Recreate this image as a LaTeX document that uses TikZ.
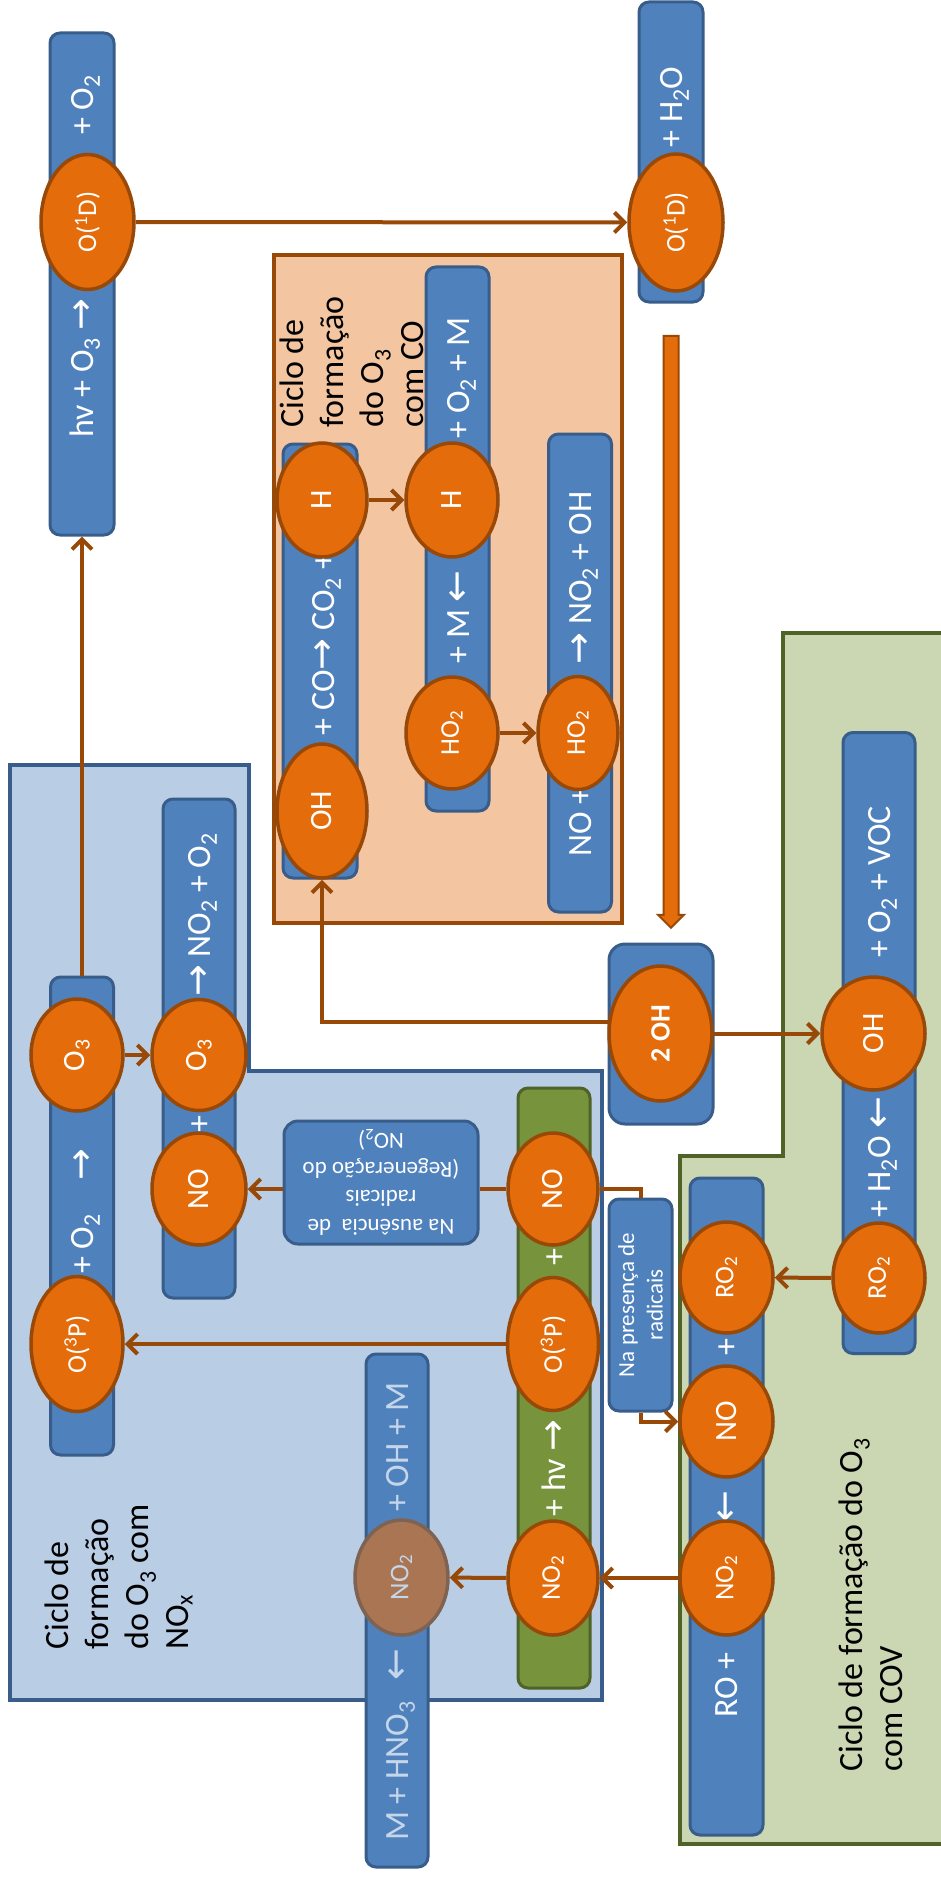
\documentclass[tikz,border=0pt]{standalone}
\usepackage{fontspec}
\setmainfont{Carlito}
\newfontfamily\arrowfont{DejaVu Sans}
\usepackage{graphicx}
\usetikzlibrary{shapes.geometric,shapes.arrows,arrows.meta}
\definecolor{boxblue}{HTML}{4F81BD}
\definecolor{boxline}{HTML}{385D8A}
\definecolor{ovalfill}{HTML}{E46C0A}
\definecolor{ovalline}{HTML}{984807}
\definecolor{linkbrown}{HTML}{984807}
\definecolor{cofill}{HTML}{F3C5A0}
\definecolor{noxfill}{HTML}{B9CDE5}
\definecolor{covfill}{HTML}{CBD6B3}
\definecolor{covline}{HTML}{4F6228}
\definecolor{hvgreen}{HTML}{77933C}
\definecolor{lostfill}{HTML}{A97552}
\definecolor{lostline}{HTML}{7E6352}
\definecolor{paletext}{HTML}{C6D6EA}
\newcommand{\ra}{{\arrowfont\fontsize{38}{40}\selectfont →}}
\newcommand{\la}{{\arrowfont\fontsize{38}{40}\selectfont ←}}
\newcommand{\uptext}[1]{\rotatebox{90}{#1}}

\begin{document}
\begin{tikzpicture}[x=1pt,y=-1pt,
  >={Straight Barb[length=10pt,width=20pt]},
  wh/.style 2 args={minimum width=#1pt,minimum height=#2pt},
  box/.style={draw=boxline,fill=boxblue,line width=3pt,rounded corners=10pt,inner sep=0pt},
  oval/.style={ellipse,draw=ovalline,fill=ovalfill,line width=3.5pt,inner sep=0pt,
               text=white,font=\fontsize{31}{36}\selectfont},
  subs/.style={font=\fontsize{27}{32}\selectfont},
  chem/.style={rotate=90,text=white,inner sep=0pt,text height=22pt,text depth=0pt,
               font=\fontsize{34}{40}\selectfont},
  link/.style={draw=linkbrown,line width=4pt},
  areatitle/.style={rotate=90,align=left,inner sep=0pt,font=\fontsize{34}{40}\selectfont},
  notetext/.style={align=center,inner sep=0pt,text=white,
                   font=\fontsize{23}{28.5}\selectfont}]
  \useasboundingbox (0,0) rectangle (941,1878);
  % areas of the three cycles
  \draw[draw=ovalline,fill=cofill,line width=3.5pt] (274,255) rectangle (622,923);
  \draw[draw=boxline,fill=noxfill,line width=3.5pt]
    (10,765) -- (249,765) -- (249,1071) -- (602,1071) -- (602,1700) -- (10,1700) -- cycle;
  \draw[draw=covline,fill=covfill,line width=3.5pt]
    (783,633) -- (960,633) -- (960,1844) -- (680,1844) -- (680,1156) -- (783,1156) -- cycle;

  \node[areatitle,anchor=west] (cotitle) at (352,428)
    {Ciclo de\\formação\\do O\textsubscript{3}\\com CO};
  \node[areatitle,anchor=west] (noxtitle) at (119,1650)
    {Ciclo de\\formação\\do O\textsubscript{3} com\\NO\textsubscript{x}};
  \node[areatitle,anchor=west] (covtitle) at (871,1772)
    {Ciclo de formação do O\textsubscript{3}\\com COV};

  % reaction bars
  \node[box,wh={64}{502}] (hvbar) at (82,284) {};
  \node[box,wh={64}{300}] (h2obar) at (671,152) {};
  \node[box,wh={74}{434}] (cobar) at (320,661) {};
  \node[box,wh={63}{544}] (hbar) at (457.5,539) {};
  \node[box,wh={63}{478}] (ho2bar) at (580,673) {};
  \node[box,wh={63}{478}] (o3bar) at (82,1216) {};
  \node[box,wh={72}{499}] (nobar) at (199,1048.5) {};
  \node[box,wh={62}{513}] (hno3bar) at (397,1610.5) {};
  \node[box,wh={72}{600},draw=covline,fill=hvgreen] (hvgbar) at (554,1388) {};
  \node[box,wh={72}{621}] (vocbar) at (879,1043) {};
  \node[box,wh={73}{657}] (robar) at (726.5,1506.5) {};
  \node[box,wh={104}{180},rounded corners=16pt] (ohbar) at (661,1034) {};
  \node[box,wh={194}{123},rounded corners=14pt] (ausencia) at (381,1182.5) {};
  \node[box,wh={63}{212}] (presenca) at (640.5,1305) {};

  \node[notetext,rotate=180] (ausenciatext) at (ausencia)
    {Na ausência\ \ de\\radicais\\(Regeneração do\\NO\textsubscript{2})};
  \node[notetext,rotate=90] (presencatext) at (presenca)
    {Na presença de\\radicais};

  % texts on the bars
  \node[chem] (hvl) at (82,368) {hv + O\textsubscript{3} \ra};
  \node[chem] (hvr) at (82,105) {+ O\textsubscript{2}};
  \node[chem] (h2or) at (671,107) {+ H\textsubscript{2}O};
  \node[chem] (com) at (323,644) {+ CO\ra{} CO\textsubscript{2} +};
  \node[chem] (hr) at (458,378) {+ O\textsubscript{2} + M};
  \node[chem] (hm) at (458,617) {+ M \la};
  \node[chem] (ho2l) at (580,822) {NO +};
  \node[chem] (ho2r) at (580,578) {\ra{} NO\textsubscript{2} + OH};
  \node[chem] (o3l) at (82,1211) {+ O\textsubscript{2}\quad\ra};
  \node[chem] (nom) at (199,1124) {+};
  \node[chem] (nor) at (199,915) {\ra{} NO\textsubscript{2} + O\textsubscript{2}};
  \node[chem,text=paletext] (hno3r) at (397,1447) {+ OH + M};
  \node[chem,text=paletext] (hno3m) at (397,1665) {\la};
  \node[chem,text=paletext] (hno3l) at (397,1771) {M + HNO\textsubscript{3}};
  \node[chem] (hvgm) at (554,1257) {+};
  \node[chem] (hvgl) at (554,1468) {+ hv \ra};
  \node[chem] (vocr) at (879,882) {+ O\textsubscript{2} + VOC};
  \node[chem] (vocl) at (879,1157) {+ H\textsubscript{2}O \la};
  \node[chem] (rom) at (726.5,1347) {+};
  \node[chem] (roa) at (726.5,1507) {\la};
  \node[chem] (rol) at (726.5,1685) {RO +};

  % big arrow towards 2 OH
  \node[single arrow,draw=ovalline,fill=ovalfill,line width=2pt,inner sep=6.5pt,
        minimum height=592pt,minimum width=24pt,single arrow head extend=5.5pt,
        shape border rotate=270] (flow) at (671,628) {};

  % species
  \node[oval,subs,wh={93}{135}] (O1Da) at (87.5,222) {\uptext{O(\textsuperscript{1}D)}};
  \node[oval,subs,wh={94}{137}] (O1Db) at (676,222.5) {\uptext{O(\textsuperscript{1}D)}};
  \node[oval,wh={90}{114}] (Ha) at (322,500) {\uptext{H}};
  \node[oval,wh={90}{134}] (OHco) at (322,811) {\uptext{OH}};
  \node[oval,wh={92}{114}] (Hb) at (452,500) {\uptext{H}};
  \node[oval,subs,wh={92}{112}] (HO2b) at (452,733) {\uptext{HO\textsubscript{2}}};
  \node[oval,subs,wh={80}{113}] (HO2c) at (578,733) {\uptext{HO\textsubscript{2}}};
  \node[oval,wh={92}{112}] (O3a) at (77,1055) {\uptext{O\textsubscript{3}}};
  \node[oval,wh={94}{111}] (O3b) at (199,1055) {\uptext{O\textsubscript{3}}};
  \node[oval,wh={94}{112}] (NOb) at (199,1189) {\uptext{NO}};
  \node[oval,subs,wh={92}{135}] (O3Pa) at (77,1344) {\uptext{O(\textsuperscript{3}P)}};
  \node[oval,wh={90}{112}] (NOg) at (553,1189) {\uptext{NO}};
  \node[oval,subs,wh={91}{133}] (O3Pg) at (553,1344) {\uptext{O(\textsuperscript{3}P)}};
  \node[oval,subs,wh={90}{114}] (NO2g) at (553,1578) {\uptext{NO\textsubscript{2}}};
  \node[oval,subs,wh={93}{115},draw=lostline,fill=lostfill,text=paletext] (NO2lost)
    at (401.5,1577.5) {\uptext{NO\textsubscript{2}}};
  \node[oval,wh={103}{135},font=\fontsize{28}{34}\selectfont\bfseries] (twoOH)
    at (660.5,1033.5) {\uptext{2 OH}};
  \node[oval,wh={103}{113}] (OHv) at (873.5,1033.5) {\uptext{OH}};
  \node[oval,subs,wh={92}{110}] (RO2u) at (879,1278) {\uptext{RO\textsubscript{2}}};
  \node[oval,subs,wh={93}{111}] (RO2l) at (726.5,1277.5) {\uptext{RO\textsubscript{2}}};
  \node[oval,wh={93}{111}] (NOc) at (726.5,1421.5) {\uptext{NO}};
  \node[oval,subs,wh={93}{114}] (NO2c) at (726.5,1578) {\uptext{NO\textsubscript{2}}};

  % links
  \draw[link,->] (o3bar.north) -- (hvbar.south);
  \draw[link,->] (O1Da) -- (O1Db);
  \draw[link,->] (Ha) -- (Hb);
  \draw[link,->] (HO2b) -- (HO2c);
  \draw[link,->] (O3a) -- (O3b);
  \draw[link] (NOg.west) -- (ausencia.east |- NOg.west);
  \draw[link,->] (ausencia.west |- NOb.east) -- (NOb.east);
  \draw[link,->] (O3Pg) -- (O3Pa);
  \draw[link,->] (NO2g) -- (NO2lost);
  \draw[link,->] (NO2c) -- (NO2g);
  \draw[link] (NOg.east) -| (presenca.north);
  \draw[link,->] (presenca.south) |- (NOc.west);
  \draw[link,->] (RO2u) -- (RO2l);
  \draw[link,->] (twoOH) -- (OHv);
  \draw[link,->] ([yshift=12pt]ohbar.west) -| (OHco.south);
\end{tikzpicture}
\end{document}
